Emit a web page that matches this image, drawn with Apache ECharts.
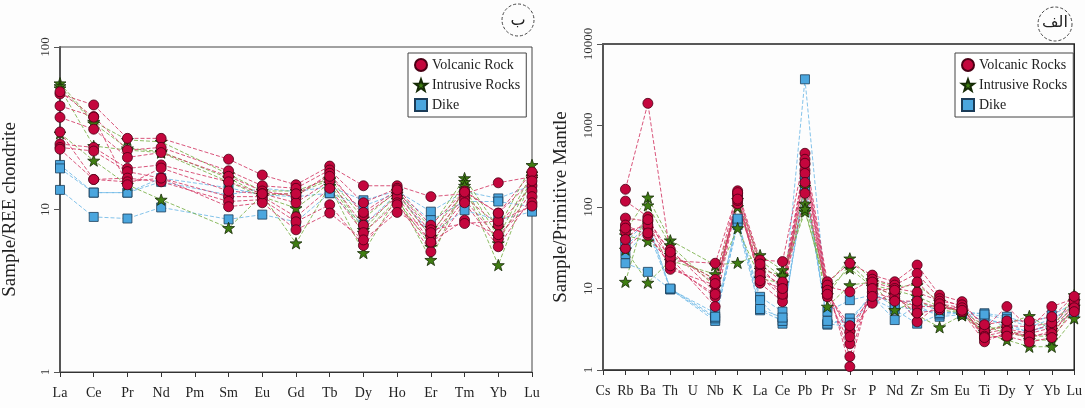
<!DOCTYPE html>
<html>
<head>
<meta charset="utf-8">
<script src="https://cdn.jsdelivr.net/npm/echarts@6/dist/echarts.min.js"></script>
<style>html,body{margin:0;padding:0;background:#fff}#c{width:1085px;height:408px}</style>
</head>
<body>
<div id="c"></div>
<script>
// ---------- DATA ----------
const reeCategories = ['La','Ce','Pr','Nd','Pm','Sm','Eu','Gd','Tb','Dy','Ho','Er','Tm','Yb','Lu'];
const reeTicks = [1, 10, 100];
const reeVolcanic = [
  [51.4,44,27.4,27.4,null,20.4,16.3,14.2,18.5,14,14,12,12.5,14.6,15.9],
  [43.4,37.3,23.2,24.1,null,17.3,14,13.5,17.5,11,13.5,8,13,9.5,17],
  [36.9,31.2,20.9,22.4,null,16,13,12,16.7,9.2,12.8,6.8,12,8,14],
  [25.3,24.1,17.9,18.8,null,14.8,12.5,11,15,8,12,6.3,11.5,6.6,13],
  [24.1,22.9,17.1,15.6,null,12,12,9,13.5,7.2,11,5.5,11,5.9,12],
  [23.5,15.3,15.6,14.8,null,11.2,11.5,8.4,10.7,6,10.7,6.3,8.6,7,11],
  [30,15.3,14.8,15.6,null,10.4,11,7.5,9.5,6.5,9.6,7.5,8.2,8.5,10.5],
  [53,37,14.2,18,null,13,12.5,12.5,16,9.6,13.2,7.2,12.8,9.5,15]
];
const reeIntrusive = [
  [59.8,34.7,26.8,26.1,null,16.5,13,13,15.5,8.8,13,7.7,15.6,7.7,18.8],
  [57.5,33.9,23.8,22.7,null,15.6,12.3,12.5,15.2,7.5,12.5,6.8,14.8,6.8,16.7],
  [55.7,24.6,23.2,22.4,null,14.8,12,10.2,14.5,7.2,11.5,5.9,13.5,6.2,15.5],
  [29.4,20,14.2,11.5,null,7.7,12.3,6.2,14,5.4,12,4.9,14,4.55,16]
];
const reeDike = [
  [18.8,12.7,12.7,14.8,null,12.3,13.5,12.9,13.8,11.4,13,9.7,12.9,11.7,14.1],
  [17.9,12.7,12.7,15.6,null,13.6,12.3,12,12.6,10.5,12.6,8.6,11.2,11.2,10.4],
  [13.2,9.0,8.8,10.3,null,8.7,9.3,8.4,12.6,8,12.5,7.1,9.9,8.6,9.7]
];

const pmCategories = ['Cs','Rb','Ba','Th','U','Nb','K','La','Ce','Pb','Pr','Sr','P','Nd','Zr','Sm','Eu','Ti','Dy','Y','Yb','Lu'];
const pmTicks = [1, 10, 100, 1000, 10000];
const pmVolcanic = [
  [null,165,1870,26,null,12.9,158,22.4,21.4,456,12.1,20.4,14.6,12.1,19.4,8.3,6.9,3.25,6.0,3.25,6.0,7.5],
  [null,118,76,22,null,20.4,147,18.5,9.6,385,10.5,9.1,13,11,15.3,7.5,6.0,2.45,2.7,3.0,3.6,6.5],
  [null,73,67,17.2,null,11,110,14,7.9,334,9,2.95,6.6,9,3.9,6.5,5.2,2.22,2.9,2.5,3.0,5.5],
  [null,60,45,20,null,7.9,140,11.6,6.9,283,7.9,2.1,9,7.5,6,6,5.5,2.8,3.2,2.8,3.3,6],
  [null,31,55,24,null,6.0,130,16,11,258,10,1.46,11,8,5,5.5,6,3.0,3.5,3.4,3.8,7],
  [null,50,60,30,null,9,150,20,12,344,11,1.1,12,10,9,7,6.3,3.6,4,4,4.5,8],
  [null,40,70,28,null,11.5,120,15,8.5,147,9.5,2.56,10,9.5,12,6.5,5.8,2.6,3,2.6,2.8,5.8],
  [null,55,48,19,null,8.5,125,12.5,10,200,8.5,3.5,8,7,7,5.8,5.4,2.5,2.6,2.2,2.5,5.2]
];
const pmIntrusive = [
  [null,50,131,39,null,19.4,20.7,25.7,16.8,110,11,23.4,12.7,10.5,11,6.9,4.7,2.95,3.7,4.6,3.1,8.3],
  [null,12.1,105,34,null,10.5,122,22,13.9,88,10,17.6,10.5,8.3,4.7,3.35,4.7,3.3,3.25,2.33,2.33,6.0],
  [null,45,38,26,null,13,55,13.3,11.6,177,6.0,11,12,5.45,7,5.5,5,2.8,2.33,1.93,1.93,4.3],
  [null,30,11.8,22,null,15,100,17,14.5,95,8.3,20,11,9.5,8,6,5.2,3.5,2.8,2.6,2.6,7]
];
const pmDike = [
  [null,37.5,67,9.8,null,5.0,69,7.9,5.2,3690,5.2,7.2,8.3,6.9,6.9,5.2,5.0,4.97,4.5,3.7,4.7,6.6],
  [null,26.5,52,9.8,null,4.0,63,7.2,3.7,225,3.6,4.3,8,4.1,6.2,4.5,4.8,4.1,3.8,2.82,3.9,5.45],
  [null,20.4,16,9.8,null,4.3,60,5.4,4.0,180,3.7,3.4,7.5,5.5,3.7,4.8,5.0,4.5,3.3,3.0,3.5,5.0],
  [null,33,60,10,null,4.5,72,5.6,4.4,200,4.0,3.8,9,6,5.5,5,5.2,4.8,4.2,3.4,4.2,6.2]
];

// ---------- STYLE ----------
const FONT = 'Liberation Serif';
const STAR = 'path://M0,-10L2.35,-3.24L9.51,-3.09L3.8,1.24L5.88,8.09L0,4L-5.88,8.09L-3.8,1.24L-9.51,-3.09L-2.35,-3.24Z';
const groups = {
  volcanic: {symbol:'circle', size:10, fill:'#c4063d', border:'#4a0015', line:'rgba(210,55,100,0.85)'},
  intrusive:{symbol:STAR, size:12, fill:'#3f7d12', border:'#152a05', line:'rgba(120,175,70,0.85)'},
  dike:     {symbol:'rect', size:9, fill:'#4ba6de', border:'#1b3c58', line:'rgba(110,185,230,0.85)'}
};

function makeSeries(rows, name, g, idx) {
  return rows.map(r => ({
    type:'line', name:name, xAxisIndex:idx, yAxisIndex:idx, data:r,
    connectNulls:true, symbol:g.symbol, symbolSize:g.size, symbolKeepAspect:true,
    itemStyle:{color:g.fill, borderColor:g.border, borderWidth:0.8},
    lineStyle:{color:g.line, width:1, type:[4,2]},
    emphasis:{disabled:true}, animation:false
  }));
}

const series = [].concat(
  makeSeries(reeDike,'Dike',groups.dike,0),
  makeSeries(reeIntrusive,'Intrusive Rocks',groups.intrusive,0),
  makeSeries(reeVolcanic,'Volcanic Rock',groups.volcanic,0),
  makeSeries(pmDike,'Dike',groups.dike,1),
  makeSeries(pmIntrusive,'Intrusive Rocks',groups.intrusive,1),
  makeSeries(pmVolcanic,'Volcanic Rocks',groups.volcanic,1)
);

function xAxis(cats, idx) {
  return {
    type:'category', gridIndex:idx, data:cats, boundaryGap:false,
    axisLine:{lineStyle:{color:'#333', width:1}},
    axisTick:{show:true, length:5, interval:0, lineStyle:{color:'#333'}},
    axisLabel:{interval:0, fontFamily:FONT, fontSize:14, color:'#222', margin:14}
  };
}
function yAxis(idx, max, name, gap) {
  return {
    type:'log', logBase:10, gridIndex:idx, min:1, max:max,
    name:name, nameLocation:'middle', nameGap:gap,
    nameTextStyle:{fontFamily:FONT, fontSize:19, color:'#222'},
    axisLine:{show:true, lineStyle:{color:'#555', width:2}},
    axisTick:{show:true, length:6, lineStyle:{color:'#555'}},
    axisLabel:{rotate:90, fontFamily:FONT, fontSize:13, color:'#333', margin:8,
      formatter:function(v){ return String(Math.round(v)); }},
    splitLine:{show:false}, minorTick:{show:false}
  };
}

const legendCommon = {
  orient:'vertical', backgroundColor:'#fff', borderColor:'#444', borderWidth:1,
  padding:[5,6,5,6], itemGap:6, itemWidth:12, itemHeight:12,
  textStyle:{fontFamily:FONT, fontSize:14, color:'#222'}
};

const chart = echarts.init(document.getElementById('c'), null, {renderer:'canvas'});
chart.setOption({
  animation:false,
  backgroundColor:'#fdfdfd',
  grid:[
    {left:58, top:47, width:474, height:325, show:true, borderColor:'#444', borderWidth:1, backgroundColor:'transparent'},
    {left:603, top:44, width:475, height:326, show:true, borderColor:'#222', borderWidth:1.5, backgroundColor:'transparent'}
  ],
  xAxis:[xAxis(reeCategories,0), xAxis(pmCategories,1)],
  yAxis:[yAxis(0,100,'Sample/REE chondrite',40), yAxis(1,10000,'Sample/Primitive Mantle',32)],
  legend:[
    Object.assign({}, legendCommon, {left:408, top:53, data:[
      {name:'Volcanic Rock', icon:'circle'},
      {name:'Intrusive Rocks', icon:STAR},
      {name:'Dike', icon:'rect'}]}),
    Object.assign({}, legendCommon, {left:955, top:53, itemGap:6, data:[
      {name:'Volcanic Rocks', icon:'circle'},
      {name:'Intrusive Rocks', icon:STAR},
      {name:'Dike', icon:'rect'}]})
  ],
  graphic:[
    {type:'circle', shape:{cx:518, cy:20, r:16}, style:{fill:'none', stroke:'#444', lineWidth:1, lineDash:[3,2]}},
    {type:'text', x:518, y:20, style:{text:'ب', font:'16px "Noto Sans", "DejaVu Sans"', fill:'#222', textAlign:'center', textVerticalAlign:'middle'}},
    {type:'circle', shape:{cx:1055, cy:24, r:17}, style:{fill:'none', stroke:'#444', lineWidth:1, lineDash:[3,2]}},
    {type:'text', x:1055, y:23, style:{text:'الف', font:'16px "DejaVu Sans", "Noto Sans"', fill:'#222', textAlign:'center', textVerticalAlign:'middle'}}
  ],
  series:series
});
</script>
</body>
</html>
